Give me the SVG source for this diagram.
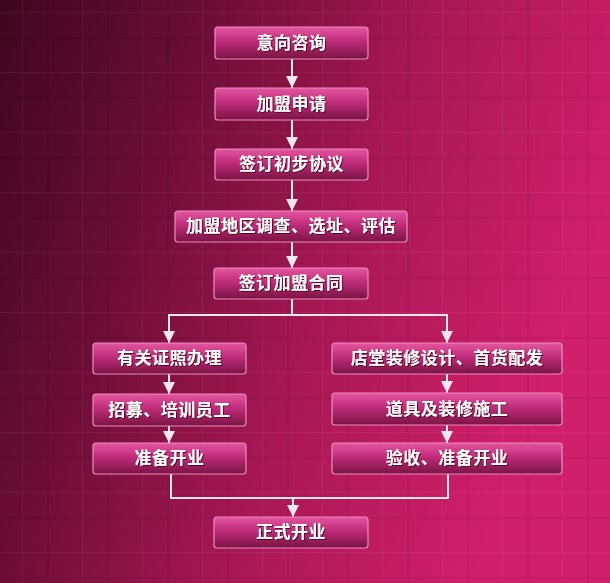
<svg xmlns="http://www.w3.org/2000/svg" width="610" height="583" viewBox="0 0 610 583">
<defs>
<linearGradient id="bg" x1="0" y1="0" x2="1" y2="0.35">
<stop offset="0" stop-color="#3e0720"/>
<stop offset="0.3" stop-color="#6a0d36"/>
<stop offset="0.65" stop-color="#aa1855"/>
<stop offset="1" stop-color="#d01f6b"/>
</linearGradient>
<linearGradient id="box" x1="0" y1="0" x2="0" y2="1">
<stop offset="0" stop-color="#e4569f"/>
<stop offset="0.45" stop-color="#bf2c7a"/>
<stop offset="1" stop-color="#7a1343"/>
</linearGradient>
<pattern id="tex" width="60" height="60" patternUnits="userSpaceOnUse">
<rect x="0" y="12" width="60" height="1" fill="#ffffff" opacity="0.05"/>
<rect x="0" y="37" width="60" height="2" fill="#000000" opacity="0.06"/>
<rect x="22" y="0" width="1" height="60" fill="#ffffff" opacity="0.05"/>
<rect x="47" y="0" width="2" height="60" fill="#000000" opacity="0.06"/>
</pattern>
<marker id="ah" viewBox="0 0 10 10" refX="10" refY="5" markerWidth="6" markerHeight="6" markerUnits="strokeWidth" orient="auto">
<path d="M0,0 L10,5 L0,10 z" fill="#f6e6ee"/>
</marker>
<filter id="ts" x="-10%" y="-30%" width="120%" height="160%">
<feDropShadow dx="1" dy="1" stdDeviation="0.6" flood-color="#3a0018" flood-opacity="0.8"/>
</filter>
</defs>
<style>
.b{fill:url(#box);stroke:#ec8cc0;stroke-width:1.2}
.t{font-family:"Noto Sans CJK SC","Noto Sans",sans-serif;font-weight:bold;font-size:17px;letter-spacing:0.5px;fill:#ffffff;text-anchor:middle;filter:url(#ts)}
.c{fill:none;stroke:#f6e6ee;stroke-width:2}
.a{marker-end:url(#ah)}
</style>
<rect width="610" height="583" fill="url(#bg)"/>
<rect width="610" height="583" fill="url(#tex)"/>

<g id="connectors">
<line class="c a" x1="292" y1="59" x2="292" y2="88"/>
<line class="c a" x1="292" y1="120" x2="292" y2="149"/>
<line class="c a" x1="292" y1="180" x2="292" y2="211"/>
<line class="c a" x1="292" y1="242" x2="292" y2="268"/>
<polyline class="c" points="292,299 292,315"/>
<polyline class="c a" points="169,315 169,343"/>
<polyline class="c a" points="447,315 447,343"/>
<line class="c" x1="168" y1="315" x2="448" y2="315"/>
<line class="c a" x1="169" y1="374" x2="169" y2="394"/>
<line class="c a" x1="169" y1="426" x2="169" y2="443"/>
<line class="c a" x1="447" y1="374" x2="447" y2="393"/>
<line class="c a" x1="447" y1="425" x2="447" y2="443"/>
<polyline class="c" points="171,474 171,498 448,498 448,474"/>
<line class="c a" x1="293" y1="498" x2="293" y2="517"/>
</g>

<g id="n1"><rect class="b" x="215" y="27" width="153" height="32" rx="3"/><text class="t" x="291.5" y="49">意向咨询</text></g>
<g id="n2"><rect class="b" x="215" y="88" width="153" height="32" rx="3"/><text class="t" x="291.5" y="110">加盟申请</text></g>
<g id="n3"><rect class="b" x="215" y="149" width="153" height="31" rx="3"/><text class="t" x="291.5" y="170">签订初步协议</text></g>
<g id="n4"><rect class="b" x="175" y="211" width="232" height="31" rx="3"/><text class="t" x="291" y="232">加盟地区调查、选址、评估</text></g>
<g id="n5"><rect class="b" x="214" y="268" width="154" height="31" rx="3"/><text class="t" x="291" y="289">签订加盟合同</text></g>
<g id="n6"><rect class="b" x="93" y="343" width="153" height="31" rx="3"/><text class="t" x="169.5" y="364">有关证照办理</text></g>
<g id="n7"><rect class="b" x="93" y="394" width="153" height="32" rx="3"/><text class="t" x="169.5" y="416">招募、培训员工</text></g>
<g id="n8"><rect class="b" x="93" y="443" width="153" height="31" rx="3"/><text class="t" x="169.5" y="464">准备开业</text></g>
<g id="n9"><rect class="b" x="332" y="343" width="230" height="31" rx="3"/><text class="t" x="447" y="364">店堂装修设计、首货配发</text></g>
<g id="n10"><rect class="b" x="332" y="393" width="230" height="32" rx="3"/><text class="t" x="447" y="415">道具及装修施工</text></g>
<g id="n11"><rect class="b" x="332" y="443" width="230" height="31" rx="3"/><text class="t" x="447" y="464">验收、准备开业</text></g>
<g id="n12"><rect class="b" x="214" y="517" width="154" height="31" rx="3"/><text class="t" x="291" y="538">正式开业</text></g>
</svg>
